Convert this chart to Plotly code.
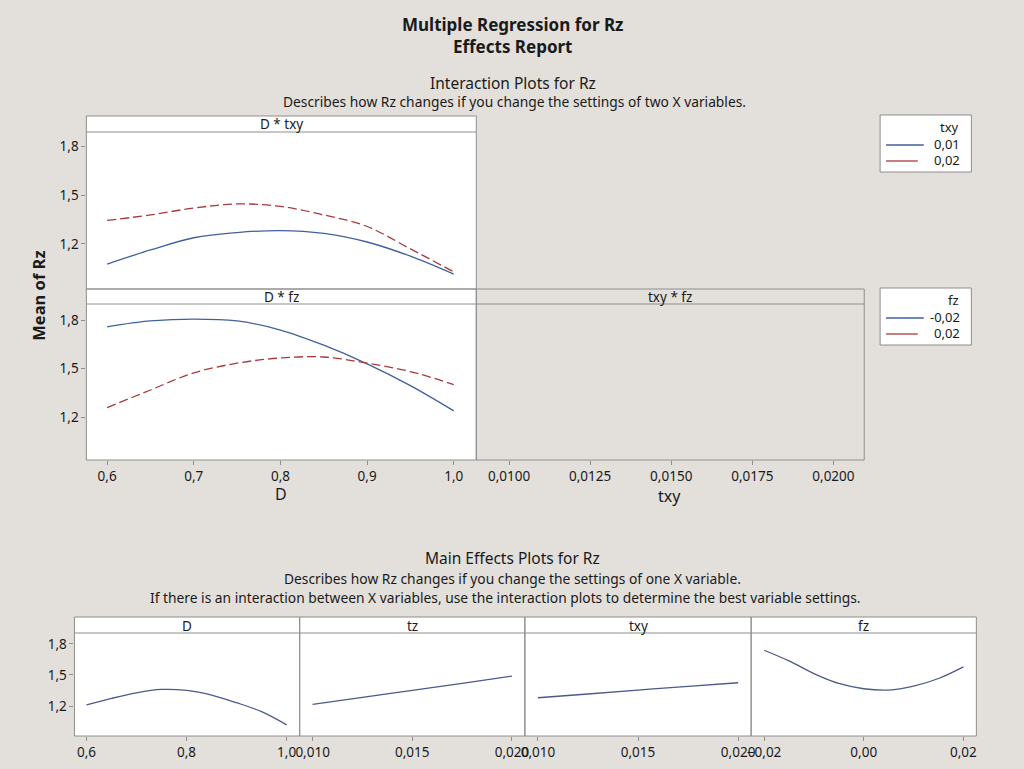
"""Minitab-style Effects Report for Rz, rebuilt with Plotly."""
import plotly.graph_objects as go

W, H = 1024, 769

d_levels = [0.6, 0.65, 0.7, 0.75, 0.8, 0.85, 0.9, 0.95, 1.0]

# D * txy interaction
rz_d_txy_001 = [1.077, 1.163, 1.238, 1.270, 1.282, 1.265, 1.212, 1.125, 1.015]
rz_d_txy_002 = [1.344, 1.378, 1.420, 1.445, 1.430, 1.378, 1.307, 1.170, 1.029]

# D * fz interaction
rz_d_fz_m002 = [1.758, 1.794, 1.806, 1.794, 1.738, 1.644, 1.529, 1.394, 1.238]
rz_d_fz_p002 = [1.258, 1.367, 1.473, 1.533, 1.565, 1.571, 1.533, 1.481, 1.400]

# main effects
me_d = [1.210, 1.274, 1.328, 1.360, 1.351, 1.306, 1.232, 1.145, 1.017]
tz_levels = [0.010, 0.0125, 0.015, 0.0175, 0.020]
me_tz = [1.216, 1.283, 1.352, 1.418, 1.489]
txy_levels = [0.010, 0.0125, 0.015, 0.0175, 0.020]
me_txy = [1.280, 1.316, 1.354, 1.389, 1.425]
fz_levels = [-0.02, -0.015, -0.01, -0.005, 0.0, 0.005, 0.01, 0.015, 0.02]
me_fz = [1.739, 1.636, 1.514, 1.418, 1.367, 1.354, 1.392, 1.466, 1.579]

# legend labels
txy_labels = ["0,01", "0,02"]
fz_labels = ["-0,02", "0,02"]

y_ticks = [1.2, 1.5, 1.8]
d_ticks = [0.6, 0.7, 0.8, 0.9, 1.0]
txy_ticks = [0.01, 0.0125, 0.015, 0.0175, 0.02]
me_d_ticks = [0.6, 0.8, 1.0]
me_tz_ticks = [0.010, 0.015, 0.020]
me_fz_ticks = [-0.02, 0.0, 0.02]

BG = "#e3e0dc"
BORDER = "#8e8e8e"
BLUE = "#42609f"
RED = "#a83a3b"
TXT = "#1a1a1a"
FONT = "Noto Sans"
DASH = "9px,4px"


def fx(px):
    return px / W


def fy(py):
    return 1 - py / H


fig = go.Figure()

# interaction traces
fig.add_trace(go.Scatter(x=d_levels, y=rz_d_txy_001, mode="lines", name=txy_labels[0],
                         line=dict(color=BLUE, width=1.3, shape="spline"),
                         xaxis="x", yaxis="y"))
fig.add_trace(go.Scatter(x=d_levels, y=rz_d_txy_002, mode="lines", name=txy_labels[1],
                         line=dict(color=RED, width=1.3, shape="spline", dash=DASH),
                         xaxis="x", yaxis="y"))
fig.add_trace(go.Scatter(x=d_levels, y=rz_d_fz_m002, mode="lines", name=fz_labels[0],
                         line=dict(color=BLUE, width=1.3, shape="spline"),
                         xaxis="x2", yaxis="y2"))
fig.add_trace(go.Scatter(x=d_levels, y=rz_d_fz_p002, mode="lines", name=fz_labels[1],
                         line=dict(color=RED, width=1.3, shape="spline", dash=DASH),
                         xaxis="x2", yaxis="y2"))
# empty txy * fz panel keeps its axis
fig.add_trace(go.Scatter(x=[None], y=[None], mode="lines", xaxis="x3", yaxis="y3"))

# main effects traces
me_series = [(d_levels, me_d), (tz_levels, me_tz), (txy_levels, me_txy), (fz_levels, me_fz)]
for i, (xs, ys) in enumerate(me_series):
    fig.add_trace(go.Scatter(x=xs, y=ys, mode="lines",
                             line=dict(color="#4a5b8a", width=1.3, shape="spline"),
                             xaxis=f"x{i + 4}", yaxis=f"y{i + 4}"))

tickfont = dict(family=FONT, size=13.5, color=TXT)
common = dict(showgrid=False, zeroline=False, showline=False, ticks="outside",
              ticklen=4, tickcolor=BORDER, tickfont=tickfont)

layout_axes = {}
# interaction panels
int_x = [fx(83), fx(476)]
layout_axes["xaxis"] = dict(common, domain=int_x, range=[0.576, 1.026], anchor="y",
                            showticklabels=False, ticks="")
layout_axes["yaxis"] = dict(common, domain=[fy(289), fy(132)], range=[0.924, 1.886],
                            anchor="x", tickvals=y_ticks, tickformat=".1f")
layout_axes["xaxis2"] = dict(common, domain=int_x, range=[0.576, 1.026], anchor="y2",
                             tickvals=d_ticks, tickformat=".1f")
layout_axes["yaxis2"] = dict(common, domain=[fy(460), fy(304)], range=[0.934, 1.899],
                             anchor="x2", tickvals=y_ticks, tickformat=".1f")
layout_axes["xaxis3"] = dict(common, domain=[fx(476), fx(867)], range=[0.00899, 0.02095],
                             anchor="y3", tickvals=txy_ticks, tickformat=".4f")
layout_axes["yaxis3"] = dict(common, domain=[fy(460), fy(304)], range=[0.934, 1.899],
                             anchor="x3", visible=False)

# main effects panels
me_edges = [71, 298, 525, 753, 980]
me_ranges = [[0.576, 1.026], [0.00935, 0.02065], [0.00935, 0.02065], [-0.0226, 0.0226]]
me_tickvals = [me_d_ticks, me_tz_ticks, me_tz_ticks, me_fz_ticks]
me_fmt = [".1f", ".3f", ".3f", ".2f"]
for i in range(4):
    n = i + 4
    layout_axes[f"xaxis{n}"] = dict(common, domain=[fx(me_edges[i]), fx(me_edges[i + 1])],
                                    range=me_ranges[i], anchor=f"y{n}",
                                    tickvals=me_tickvals[i], tickformat=me_fmt[i])
    yax = dict(common, domain=[fy(736), fy(633)], range=[0.91, 1.906], anchor=f"x{n}",
               tickvals=y_ticks, tickformat=".1f")
    if i > 0:
        yax["visible"] = False
    layout_axes[f"yaxis{n}"] = yax

shapes = []
annotations = []


def text(s, x, y, size, bold=False, angle=0, xanchor="center"):
    annotations.append(dict(text=f"<b>{s}</b>" if bold else s, xref="paper", yref="paper",
                            x=fx(x), y=fy(y), showarrow=False, textangle=angle,
                            xanchor=xanchor, yanchor="middle",
                            font=dict(family=FONT, size=size, color=TXT)))


def box(x0, x1, y0, y1, fill=None):
    if fill:
        shapes.append(dict(type="rect", xref="paper", yref="paper", layer="below",
                           x0=fx(x0), x1=fx(x1), y0=fy(y1), y1=fy(y0),
                           fillcolor=fill, line=dict(width=0)))
    shapes.append(dict(type="rect", xref="paper", yref="paper", layer="above",
                       x0=fx(x0), x1=fx(x1), y0=fy(y1), y1=fy(y0),
                       fillcolor="rgba(0,0,0,0)", line=dict(color=BORDER, width=1)))


def hline(x0, x1, y, color=BORDER, width=1):
    shapes.append(dict(type="line", xref="paper", yref="paper", layer="above",
                       x0=fx(x0), x1=fx(x1), y0=fy(y), y1=fy(y),
                       line=dict(color=color, width=width)))


def panel(x0, x1, y_top, y_strip, y_bot, title, white=True):
    """Panel box with a strip header on top."""
    box(x0, x1, y_top, y_bot, "white" if white else None)
    hline(x0, x1, y_strip)
    text(title, (x0 + x1) / 2, (y_top + y_strip) / 2 + 0.5, 13.5)


panel(83, 476, 116, 132, 289, "D * txy")
panel(83, 476, 289, 304, 460, "D * fz")
panel(476, 867, 289, 304, 460, "txy * fz", white=False)
for i, name in enumerate(["D", "tz", "txy", "fz"]):
    panel(me_edges[i], me_edges[i + 1], 617, 633, 736, name)


def legend_box(y_top, title, labels):
    box(883, 975, y_top, y_top + 57, "white")
    text(title, 965, y_top + 12, 13, xanchor="right")
    for k, (lab, col) in enumerate(zip(labels, [BLUE, RED])):
        yy = y_top + 29 + 16 * k
        hline(889, 927 if k == 0 else 921, yy + 1, color=col, width=1.3)
        text(lab, 966, yy, 13, xanchor="right")


legend_box(115, "txy", txy_labels)
legend_box(288, "fz", fz_labels)

text("Multiple Regression for Rz<br>Effects Report", 512, 35.5, 17, bold=True)
text("Interaction Plots for Rz", 513, 83, 15.5)
text("Describes how Rz changes if you change the settings of two X variables.", 515, 102, 13.8)
text("Mean of Rz", 34, 296, 16.5, bold=True, angle=-90)
text("D", 279, 494, 16)
text("txy", 671, 496, 16)
text("Main Effects Plots for Rz", 513, 558, 15.5)
text("Describes how Rz changes if you change the settings of one X variable.", 513, 578, 13.8)
text("If there is an interaction between X variables, use the interaction plots to "
     "determine the best variable settings.", 505, 597, 13.8)

fig.update_layout(
    width=W, height=H,
    margin=dict(l=0, r=0, t=0, b=0),
    paper_bgcolor=BG,
    plot_bgcolor="rgba(0,0,0,0)",
    separators=",.",
    font=dict(family=FONT, size=13, color=TXT),
    showlegend=False,
    shapes=shapes,
    annotations=annotations,
    **layout_axes,
)

fig.write_html("out.html", config={"displayModeBar": False},
               post_script="document.body.style.margin='0';")
